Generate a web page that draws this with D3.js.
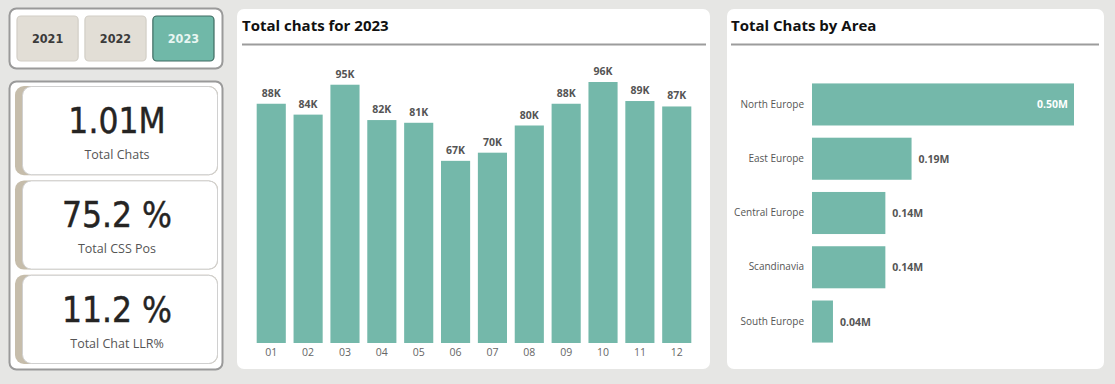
<!DOCTYPE html>
<html><head><meta charset="utf-8">
<script src="https://cdn.jsdelivr.net/npm/d3@7"></script>
<style>
html,body{margin:0;padding:0;background:#e6e6e4;}
svg{display:block;}
</style></head>
<body>
<svg id="c" width="1115" height="384"></svg>
<script>
// ---- data ----
const years = ["2021", "2022", "2023"];
const selectedYear = "2023";
const kpiValues = ["1.01M", "75.2 %", "11.2 %"];
const kpiLabels = ["Total Chats", "Total CSS Pos", "Total Chat LLR%"];
const months = ["01","02","03","04","05","06","07","08","09","10","11","12"];
const monthChats = [88, 84, 95, 82, 81, 67, 70, 80, 88, 96, 89, 87]; // thousands
const areas = ["North Europe", "East Europe", "Central Europe", "Scandinavia", "South Europe"];
const areaChats = [0.50, 0.19, 0.14, 0.14, 0.04]; // millions

const teal = "#74b8aa";
const svg = d3.select("#c");

// ---- year slicer ----
svg.append("rect").attr("x",9.5).attr("y",8.5).attr("width",213).attr("height",60).attr("rx",7)
  .attr("fill","#fff").attr("stroke","#9a9a9a").attr("stroke-width",2);
const bx = d3.scaleBand().domain(years).range([17,214]).paddingInner(0.1);
const btn = svg.selectAll("g.btn").data(years).join("g").attr("class","btn");
btn.append("rect").attr("x",d=>bx(d)).attr("y",16).attr("width",bx.bandwidth()).attr("height",45).attr("rx",4)
  .attr("fill",d=>d===selectedYear?"#70b8a8":"#e2ded6")
  .attr("stroke",d=>d===selectedYear?"#3e6b62":"#d2cec6").attr("stroke-width",1.2);
btn.append("text").attr("x",d=>bx(d)+bx.bandwidth()/2).attr("y",43).attr("text-anchor","middle")
  .attr("font-family","'DejaVu Sans Condensed','DejaVu Sans',sans-serif").attr("font-size",12.5).attr("font-weight","bold")
  .attr("fill",d=>d===selectedYear?"#e8f6f2":"#3a3a3a").text(d=>d);

// ---- KPI cards ----
svg.append("rect").attr("x",9.5).attr("y",81.5).attr("width",213).attr("height",288).attr("rx",7)
  .attr("fill","#fff").attr("stroke","#9a9a9a").attr("stroke-width",2);
const ky = d3.scaleBand().domain(kpiLabels).range([86,364]).paddingInner(0.055);
const card = svg.selectAll("g.card").data(kpiLabels).join("g").attr("class","card");
card.append("rect").attr("x",15).attr("y",d=>ky(d)).attr("width",203).attr("height",ky.bandwidth()).attr("rx",9)
  .attr("fill","#c6bdab");
card.append("rect").attr("x",22.5).attr("y",d=>ky(d)+0.5).attr("width",195).attr("height",ky.bandwidth()-1).attr("rx",9)
  .attr("fill","#fff").attr("stroke","#d0d0d0").attr("stroke-width",1);
card.append("text").attr("x",117).attr("y",d=>ky(d)+47).attr("text-anchor","middle")
  .attr("font-family","'DejaVu Sans Condensed','DejaVu Sans',sans-serif").attr("font-size",35)
  .attr("fill","#252423").attr("stroke","#252423").attr("stroke-width",0.4).text((d,i)=>kpiValues[i]);
card.append("text").attr("x",117).attr("y",d=>ky(d)+73).attr("text-anchor","middle")
  .attr("font-family","'Open Sans',sans-serif").attr("font-size",12.5)
  .attr("fill","#555").text(d=>d);

// ---- panels ----
function panel(x,y,w,h,title,lx1,lx2){
  svg.append("rect").attr("x",x).attr("y",y).attr("width",w).attr("height",h).attr("rx",7).attr("fill","#fff");
  svg.append("text").attr("x",lx1).attr("y",31).attr("font-family","'Open Sans',sans-serif")
    .attr("font-size",15).attr("font-weight","bold").attr("fill","#111").text(title);
  svg.append("line").attr("x1",lx1).attr("x2",lx2).attr("y1",44.5).attr("y2",44.5).attr("stroke","#9c9c9c").attr("stroke-width",2);
}
panel(237,9,473,360,"Total chats for 2023",242,706);
panel(727,9,377,360,"Total Chats by Area",731,1099);

// ---- monthly column chart ----
const x = d3.scaleBand().domain(months).range([253,695]).paddingInner(0.21).paddingOuter(0.1);
const y = d3.scaleLinear().domain([0,96]).range([343,82]);
const g1 = svg.append("g");
g1.selectAll("rect").data(months).join("rect")
  .attr("x",d=>x(d)).attr("width",x.bandwidth())
  .attr("y",(d,i)=>y(monthChats[i])).attr("height",(d,i)=>y(0)-y(monthChats[i])).attr("fill",teal);
g1.selectAll("text.v").data(months).join("text").attr("class","v")
  .attr("x",d=>x(d)+x.bandwidth()/2).attr("y",(d,i)=>y(monthChats[i])-7).attr("text-anchor","middle")
  .attr("font-family","'Open Sans',sans-serif").attr("font-size",10.5).attr("font-weight","bold").attr("fill","#555")
  .text((d,i)=>monthChats[i]+"K");
const ax = svg.append("g").attr("transform","translate(0,343)").call(d3.axisBottom(x).tickSize(0).tickPadding(6));
ax.select(".domain").remove();
ax.selectAll("text").attr("font-family","'Open Sans',sans-serif").attr("font-size",10.5).attr("fill","#666");

// ---- area bar chart ----
const yb = d3.scaleBand().domain(areas).range([78,348]).paddingInner(0.225).paddingOuter(0.1);
const xb = d3.scaleLinear().domain([0,0.5]).range([812,1074]);
const g2 = svg.append("g");
g2.selectAll("rect").data(areas).join("rect")
  .attr("x",xb(0)).attr("y",d=>yb(d)).attr("height",yb.bandwidth())
  .attr("width",(d,i)=>xb(areaChats[i])-xb(0)).attr("fill",teal);
g2.selectAll("text.v").data(areas).join("text").attr("class","v")
  .attr("x",(d,i)=>i===0?xb(areaChats[i])-6:xb(areaChats[i])+7)
  .attr("y",d=>yb(d)+yb.bandwidth()/2+4)
  .attr("text-anchor",(d,i)=>i===0?"end":"start")
  .attr("font-family","'Open Sans',sans-serif").attr("font-size",10.5).attr("font-weight","bold")
  .attr("fill",(d,i)=>i===0?"#fff":"#555")
  .text((d,i)=>areaChats[i].toFixed(2)+"M");
const ay = svg.append("g").attr("transform","translate(812,0)").call(d3.axisLeft(yb).tickSize(0).tickPadding(8));
ay.select(".domain").remove();
ay.selectAll("text").attr("font-family","'Open Sans',sans-serif").attr("font-size",10).attr("fill","#555");
</script>
</body></html>
